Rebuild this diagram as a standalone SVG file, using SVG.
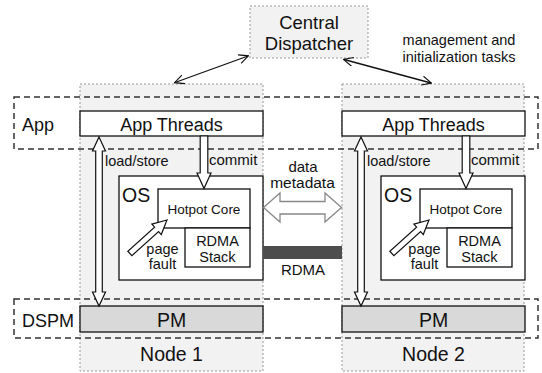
<svg xmlns="http://www.w3.org/2000/svg" width="542" height="373" viewBox="0 0 542 373">
<style>
text{font-family:"Liberation Sans",Arial,sans-serif;fill:#111}
.c{text-anchor:middle}
.dot{fill:#f2f2f2;stroke:#999;stroke-width:1;stroke-dasharray:2,2}
.band{fill:none;stroke:#333;stroke-width:1.5;stroke-dasharray:6,4}
.box{fill:#fff;stroke:#111;stroke-width:1.3}
.pm{fill:#d9d9d9;stroke:#111;stroke-width:1.3}
.harrow{fill:#fff;stroke:#111;stroke-width:1.2;stroke-linejoin:miter}
.line{fill:none;stroke:#111;stroke-width:1.3}
</style>
<defs>
<marker id="v" viewBox="0 0 10 10" refX="9" refY="5" markerWidth="10" markerHeight="10" markerUnits="userSpaceOnUse" orient="auto-start-reverse">
<path d="M0,0.5 L9.5,5 L0,9.5" fill="none" stroke="#111" stroke-width="1.2"/>
</marker>
</defs>

<g id="node1-container"><rect class="dot" x="80" y="84" width="183" height="287"/></g>
<g id="node2-container"><rect class="dot" x="342" y="84" width="182" height="287"/></g>

<g id="dispatcher">
<rect class="dot" x="250" y="6" width="118" height="52"/>
<text class="c" x="309" y="28.5" font-size="18.5">Central</text>
<text class="c" x="309" y="50" font-size="18.5">Dispatcher</text>
</g>

<g id="app-band">
<rect class="band" x="14" y="97" width="524" height="52"/>
<text x="22" y="131" font-size="18">App</text>
</g>
<g id="dspm-band">
<rect class="band" x="14" y="299" width="524" height="39"/>
<text x="22" y="327" font-size="18">DSPM</text>
</g>

<g id="node1">
<rect class="box" x="80" y="111" width="183" height="25"/>
<text class="c" x="171.5" y="130.5" font-size="18">App Threads</text>
<rect class="box" x="119" y="176" width="144" height="104"/>
<text x="122" y="202" font-size="19.5">OS</text>
<rect class="box" x="158" y="189" width="92" height="39"/>
<text class="c" x="204" y="214.3" font-size="13.5">Hotpot Core</text>
<rect class="box" x="185" y="228" width="65" height="39"/>
<text class="c" x="217.5" y="245.7" font-size="14.5">RDMA</text>
<text class="c" x="217.5" y="261.7" font-size="14.5">Stack</text>
<rect class="pm" x="80" y="306" width="183" height="26"/>
<text class="c" x="171.5" y="327" font-size="19.5">PM</text>
<text class="c" x="171.5" y="361" font-size="19.5">Node 1</text>
<polygon class="harrow" points="99,137 105.5,151 102.3,151 102.3,292 105.5,292 99,306 92.5,292 95.7,292 95.7,151 92.5,151"/>
<text x="105" y="166" font-size="14.5">load/store</text>
<polygon class="harrow" points="200.2,136 207.8,136 207.8,173 211,173 204,188.5 197,173 200.2,173"/>
<text x="209" y="164.5" font-size="15">commit</text>
<polygon class="harrow" transform="translate(167,220) rotate(-42)" points="0,0 -14,-7 -14,-3 -50,-3 -50,3 -14,3 -14,7"/>
<text class="c" x="162.5" y="253.5" font-size="14.5">page</text>
<text class="c" x="162.5" y="269.3" font-size="14.5">fault</text>
</g>

<g id="node2" transform="translate(262,0)">
<rect class="box" x="80" y="111" width="183" height="25"/>
<text class="c" x="171.5" y="130.5" font-size="18">App Threads</text>
<rect class="box" x="119" y="176" width="144" height="104"/>
<text x="122" y="202" font-size="19.5">OS</text>
<rect class="box" x="158" y="189" width="92" height="39"/>
<text class="c" x="204" y="214.3" font-size="13.5">Hotpot Core</text>
<rect class="box" x="185" y="228" width="65" height="39"/>
<text class="c" x="217.5" y="245.7" font-size="14.5">RDMA</text>
<text class="c" x="217.5" y="261.7" font-size="14.5">Stack</text>
<rect class="pm" x="80" y="306" width="183" height="26"/>
<text class="c" x="171.5" y="327" font-size="19.5">PM</text>
<text class="c" x="171.5" y="361" font-size="19.5">Node 2</text>
<polygon class="harrow" points="99,137 105.5,151 102.3,151 102.3,292 105.5,292 99,306 92.5,292 95.7,292 95.7,151 92.5,151"/>
<text x="105" y="166" font-size="14.5">load/store</text>
<polygon class="harrow" points="200.2,136 207.8,136 207.8,173 211,173 204,188.5 197,173 200.2,173"/>
<text x="209" y="164.5" font-size="15">commit</text>
<polygon class="harrow" transform="translate(167,220) rotate(-42)" points="0,0 -14,-7 -14,-3 -50,-3 -50,3 -14,3 -14,7"/>
<text class="c" x="162.5" y="253.5" font-size="14.5">page</text>
<text class="c" x="162.5" y="269.3" font-size="14.5">fault</text>
</g>

<g id="connectors">
<line class="line" x1="175" y1="82.5" x2="248" y2="56" marker-start="url(#v)" marker-end="url(#v)"/>
<line class="line" x1="344" y1="59.5" x2="431" y2="83" marker-start="url(#v)" marker-end="url(#v)"/>
<polygon points="263.5,207.5 280,193 280,201.5 325,201.5 325,193 341.5,207.5 325,222 325,214 280,214 280,222" fill="#fff" stroke="#888" stroke-width="1.3"/>
<rect x="263" y="246" width="79" height="13" fill="#4d4d4d"/>
</g>

<g id="labels">
<text class="c" x="459" y="45" font-size="14.5">management and</text>
<text class="c" x="459" y="61.7" font-size="14.5">initialization tasks</text>
<text class="c" x="303" y="171.7" font-size="15">data</text>
<text class="c" x="302.5" y="188" font-size="15.5">metadata</text>
<text class="c" x="303" y="275" font-size="15">RDMA</text>
</g>
</svg>
